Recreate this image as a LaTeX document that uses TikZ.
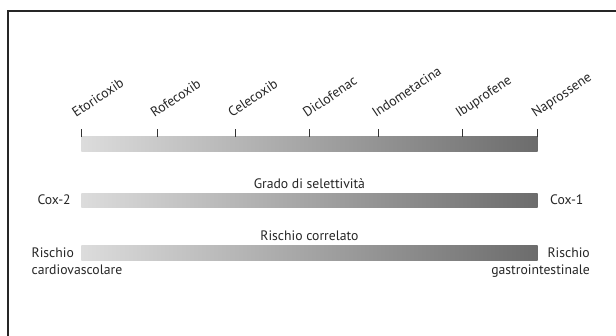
\documentclass[tikz,border=0pt]{standalone}
\usepackage{fontspec}
\setmainfont{PT Sans}
\begin{document}
\begin{tikzpicture}[x=1pt,y=1pt,
  bar/.style={draw=none,inner sep=0pt,minimum width=456.2pt,minimum height=14.6pt,
    left color=barL,right color=barR},
  lbl/.style={font=\fontsize{13.7}{16}\selectfont,inner sep=0pt,text=black!85},
  drug/.style={lbl,anchor=base west,rotate=34},
  tick/.style={line width=0.6pt,draw=black!80},
  frame/.style={line width=1.4pt,draw=black!85}]
\definecolor{barL}{RGB}{220,220,220}
\definecolor{barR}{RGB}{108,108,108}
\useasboundingbox (0,0) rectangle (616,-336);
\clip (0,0) rectangle (616,-336);
\fill[white] (0,0) rectangle (616,-336);
\coordinate (fb) at (8,-345);
\coordinate (ftl) at (8,-11);
\coordinate (ftr) at (625,-11);
\draw[frame] (fb) -- (ftl) -- (ftr);
% bars
\node[bar] (bar1) at (309.4,-144.2) {};
\node[bar] (bar2) at (309.4,-200.4) {};
\node[bar] (bar3) at (309.4,-252.9) {};
% ticks
\foreach \n/\x in {1/81.3,2/157.5,3/234.8,4/309.4,5/378.6,6/462.4,7/537.5}{
  \coordinate (tb\n) at (\x,-136.9);
  \coordinate (tt\n) at (\x,-129.2);
  \draw[tick] (tb\n) -- (tt\n);
}
% drug labels
\node[drug] (d1) at (76,-118) {Etoricoxib};
\node[drug] (d2) at (154.5,-118) {Rofecoxib};
\node[drug] (d3) at (232,-118) {Celecoxib};
\node[drug] (d4) at (306.8,-118) {Diclofenac};
\node[drug] (d5) at (376,-118) {Indometacina};
\node[drug] (d6) at (459.5,-118) {Ibuprofene};
\node[drug] (d7) at (535.5,-118) {Naprossene};
% selectivity
\node[lbl,anchor=base] (g) at (309.4,-188.3) {Grado di selettività};
\node[lbl,anchor=base west] (c2) at (37.3,-204.7) {Cox-2};
\node[lbl,anchor=base west] (c1) at (550,-204.7) {Cox-1};
% risk
\node[lbl,anchor=base] (r) at (309.4,-240.7) {Rischio correlato};
\node[lbl,anchor=base west] (rl1) at (31.4,-257.7) {Rischio};
\node[lbl,anchor=base west] (rl2) at (31.4,-274.3) {cardiovascolare};
\node[lbl,anchor=base east] (rr1) at (590,-257.7) {Rischio};
\node[lbl,anchor=base east] (rr2) at (590,-274.3) {gastrointestinale};
\end{tikzpicture}
\end{document}
